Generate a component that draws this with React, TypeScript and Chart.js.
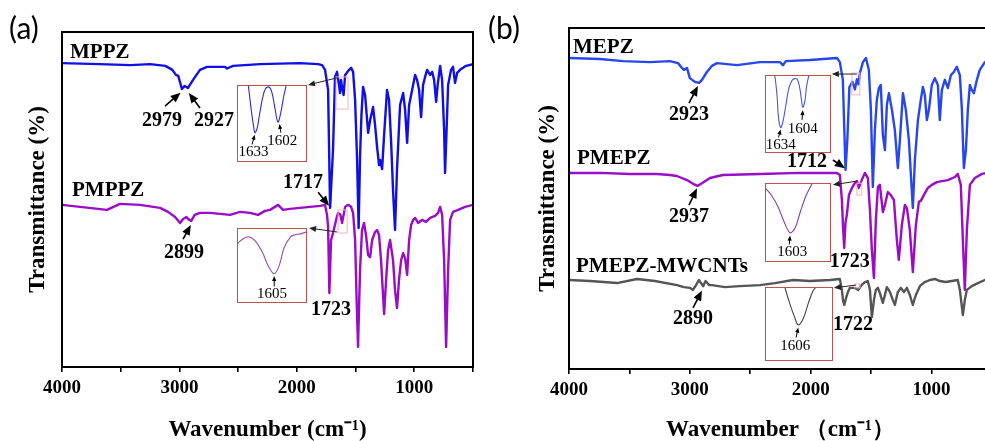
import React, { useEffect, useRef } from 'react';
import { Chart, registerables } from 'chart.js';

Chart.register(...registerables);

type Pt = [number, number];

// ---------- Panel (a): FTIR spectra, wavenumber (cm-1) vs. relative transmittance ----------
const MPPZ: Pt[] = [
  [4000, 90.7], [3680, 90.4], [3420, 90.1], [3250, 90.4], [3120, 89.9], [3060, 88.7], [3030, 87.2], [3010, 86.9],
  [2979, 83.0], [2955, 83.9], [2927, 83.3], [2884, 85.7], [2825, 88.7], [2765, 89.6], [2612, 89.6], [2595, 89.1],
  [2543, 89.9], [2313, 90.4], [1973, 90.7], [1819, 90.4], [1785, 90.1], [1760, 88.7], [1734, 82.7], [1717, 47.5],
  [1692, 64.8], [1675, 86.6], [1658, 88.1], [1641, 84.2], [1633, 81.8], [1624, 85.7], [1615, 83.3], [1602, 81.2],
  [1589, 87.2], [1555, 88.7], [1538, 89.3], [1521, 88.1], [1504, 79.7], [1487, 61.8], [1474, 41.5], [1462, 62.7],
  [1450, 75.2], [1436, 83.6], [1419, 81.2], [1393, 69.9], [1376, 73.7], [1351, 77.6], [1334, 72.2], [1317, 65.7],
  [1300, 60.3], [1291, 61.8], [1274, 59.1], [1257, 69.3], [1232, 82.7], [1215, 79.7], [1198, 67.8], [1181, 52.8],
  [1164, 40.9], [1147, 59.1], [1121, 78.2], [1095, 81.8], [1078, 76.7], [1061, 66.9], [1044, 78.2], [1027, 81.2],
  [1010, 84.2], [993, 87.2], [976, 85.7], [959, 82.7], [942, 74.6], [925, 84.2], [908, 86.6], [891, 88.7],
  [865, 87.2], [848, 88.1], [831, 85.7], [814, 79.1], [801, 84.2], [780, 89.9], [763, 85.7], [746, 70.7],
  [738, 57.9], [725, 70.7], [712, 84.2], [687, 88.7], [670, 89.6], [653, 84.8], [635, 87.8], [610, 88.7],
  [559, 89.9], [500, 90.4],
];

const PMPPZ: Pt[] = [
  [4000, 48.4], [3847, 47.8], [3617, 46.9], [3506, 48.7], [3336, 48.4], [3165, 47.5], [3097, 46.3], [3037, 44.8],
  [2995, 43.0], [2969, 44.2], [2940, 44.8], [2920, 44.0], [2899, 43.6], [2870, 45.4], [2825, 46.0], [2739, 46.0],
  [2654, 45.7], [2569, 45.4], [2484, 46.3], [2399, 46.0], [2330, 45.4], [2271, 46.6], [2228, 46.9], [2160, 48.4],
  [2118, 46.9], [2058, 47.2], [1973, 47.5], [1888, 47.8], [1802, 48.1], [1760, 48.4], [1743, 45.4], [1734, 41.8],
  [1723, 22.1], [1709, 37.9], [1692, 40.0], [1666, 43.9], [1649, 46.0], [1630, 45.5], [1615, 43.0], [1589, 47.8],
  [1564, 48.4], [1538, 47.8], [1521, 46.0], [1504, 37.9], [1491, 20.0], [1479, 6.0], [1462, 29.0], [1445, 40.9],
  [1428, 43.0], [1411, 39.4], [1393, 33.4], [1376, 32.8], [1359, 37.9], [1334, 40.3], [1317, 40.9], [1300, 39.4],
  [1283, 31.9], [1257, 15.8], [1240, 26.0], [1223, 34.9], [1206, 37.9], [1181, 31.9], [1164, 23.0], [1147, 17.6],
  [1130, 26.0], [1112, 31.9], [1095, 34.0], [1078, 32.5], [1061, 27.5], [1044, 37.9], [1027, 42.4], [1010, 43.9],
  [993, 44.5], [968, 43.0], [934, 43.9], [900, 43.3], [865, 44.5], [823, 45.1], [797, 46.0], [780, 47.8],
  [763, 45.4], [746, 31.9], [729, 6.0], [712, 29.0], [695, 43.9], [670, 46.3], [627, 46.9], [567, 47.8],
  [500, 48.4],
];

// ---------- Panel (b) ----------
const MEPZ: Pt[] = [
  [4000, 91.2], [3744, 90.9], [3553, 90.3], [3330, 90.0], [3165, 90.3], [3098, 89.7], [3065, 88.3], [3049, 87.7],
  [3024, 88.3], [3000, 85.3], [2958, 84.2], [2923, 83.9], [2900, 84.8], [2859, 87.1], [2817, 88.9], [2776, 89.7],
  [2610, 89.1], [2420, 90.0], [2255, 90.0], [2230, 89.1], [2205, 90.3], [2007, 90.6], [1783, 91.2], [1759, 90.0],
  [1734, 84.8], [1722, 70.1], [1712, 58.4], [1697, 67.2], [1680, 82.7], [1655, 84.2], [1634, 82.0], [1618, 85.0],
  [1604, 83.5], [1593, 86.8], [1568, 90.0], [1543, 91.2], [1519, 87.7], [1502, 76.0], [1486, 53.4], [1469, 70.1],
  [1453, 78.9], [1436, 82.4], [1420, 83.3], [1403, 68.6], [1386, 64.2], [1370, 77.4], [1353, 80.9], [1328, 76.0],
  [1304, 70.1], [1279, 58.9], [1262, 67.2], [1237, 80.9], [1213, 76.0], [1188, 67.2], [1171, 56.9], [1155, 47.2],
  [1138, 61.3], [1113, 73.0], [1089, 78.9], [1072, 82.7], [1056, 80.4], [1039, 73.0], [1022, 76.0], [998, 83.3],
  [973, 85.3], [948, 83.3], [932, 73.0], [915, 81.8], [890, 84.8], [865, 82.4], [840, 86.2], [816, 87.1],
  [791, 88.6], [766, 86.2], [749, 76.0], [733, 58.9], [716, 64.2], [700, 76.0], [683, 83.3], [667, 81.8],
  [650, 80.9], [625, 84.8], [601, 87.7], [559, 90.0], [500, 90.6],
];

const PMEPZ: Pt[] = [
  [4000, 57.5], [3744, 57.5], [3495, 57.2], [3272, 57.2], [3165, 56.9], [3107, 56.6], [3024, 55.4], [2974, 54.3],
  [2937, 53.7], [2900, 54.5], [2834, 56.0], [2726, 56.9], [2420, 57.2], [2089, 57.5], [1783, 57.5], [1759, 56.9],
  [1742, 49.6], [1733, 42.0], [1723, 35.5], [1712, 43.0], [1701, 45.2], [1684, 51.0], [1659, 53.1], [1635, 54.5],
  [1618, 55.1], [1603, 53.1], [1585, 54.8], [1552, 57.5], [1527, 56.0], [1510, 46.6], [1494, 34.9], [1477, 26.7],
  [1461, 43.7], [1444, 53.4], [1428, 54.0], [1403, 46.0], [1386, 48.1], [1362, 51.9], [1337, 51.0], [1312, 49.6],
  [1287, 37.8], [1271, 32.0], [1246, 42.2], [1221, 48.1], [1204, 47.2], [1180, 40.8], [1155, 28.4], [1130, 42.2],
  [1105, 49.0], [1089, 49.3], [1064, 51.0], [1031, 53.1], [998, 54.0], [956, 54.8], [915, 55.1], [865, 55.4],
  [807, 56.3], [783, 57.2], [758, 54.0], [741, 37.8], [725, 23.2], [708, 40.8], [683, 54.0], [642, 56.0],
  [584, 57.2], [500, 57.8],
];

const PMEPZ_MWCNTS: Pt[] = [
  [4000, 26.1], [3826, 25.8], [3603, 25.2], [3438, 26.4], [3289, 25.8], [3107, 24.6], [3049, 24.0], [3000, 23.8],
  [2974, 23.2], [2950, 24.5], [2925, 26.1], [2890, 24.3], [2870, 25.8], [2840, 24.6], [2817, 24.6], [2710, 24.0],
  [2586, 24.3], [2420, 24.6], [2296, 25.2], [2147, 26.1], [2007, 25.8], [1841, 26.1], [1759, 26.4], [1742, 23.2],
  [1732, 20.0], [1722, 18.8], [1706, 21.0], [1692, 22.6], [1676, 23.8], [1635, 23.8], [1606, 23.2], [1580, 24.6],
  [1552, 25.5], [1527, 25.8], [1510, 23.2], [1494, 15.2], [1477, 20.2], [1461, 23.2], [1444, 23.8], [1428, 22.3],
  [1403, 19.4], [1386, 21.7], [1370, 24.0], [1345, 22.6], [1320, 20.2], [1304, 18.8], [1279, 22.6], [1254, 23.8],
  [1229, 22.6], [1204, 23.8], [1180, 21.7], [1155, 18.8], [1130, 21.7], [1097, 24.3], [1056, 25.5], [1014, 26.1],
  [973, 26.4], [932, 25.8], [882, 25.5], [832, 25.8], [783, 26.1], [766, 23.2], [741, 15.8], [725, 20.2],
  [708, 23.2], [667, 24.3], [617, 25.2], [559, 26.1], [500, 26.4],
];

// ---------- Enlarged 1650–1560 cm-1 regions (relative scale 0–100 inside each box) ----------
const INSET_MPPZ: Pt[] = [
  [1646, 126], [1642, 100], [1638, 67.5], [1635, 46.8], [1633, 37.7], [1630, 44.2], [1627, 61.0], [1623, 83.1],
  [1619, 96.1], [1614, 98.7], [1610, 90.9], [1606, 70.1], [1602, 51.9], [1598, 64.9], [1594, 87.0], [1591, 100],
  [1588, 116.9],
];
const INSET_PMPPZ: Pt[] = [
  [1655, 80], [1647, 86.7], [1640, 89.3], [1631, 84], [1621, 68], [1613, 49.3], [1605, 38.7], [1598, 50.7],
  [1592, 73.3], [1583, 89.3], [1577, 92], [1570, 93.3], [1561, 96],
];
const INSET_MEPZ: Pt[] = [
  [1646, 119], [1642, 100], [1639, 74.4], [1637, 44.9], [1634, 32.1], [1631, 39.7], [1627, 61.5], [1623, 83.3],
  [1618, 94.9], [1612, 96.2], [1608, 83.3], [1604, 59.0], [1601, 67.9], [1599, 85.9], [1596, 100], [1593, 119],
];
const INSET_PMEPZ: Pt[] = [
  [1636, 93.7], [1628, 84.8], [1619, 69.6], [1611, 50.6], [1603, 36.7], [1596, 43.0], [1589, 63.3], [1581, 84.8],
  [1573, 100], [1569, 110],
];
const INSET_MWCNTS: Pt[] = [
  [1626, 109], [1624, 100], [1618, 79.7], [1611, 59.5], [1606, 48.6], [1599, 58.1], [1592, 79.7], [1586, 95.9],
  [1583, 100], [1580, 109],
];

// ---------- Labels, peak callouts and zoom markers (data coordinates) ----------
type Note = { text: string; x: number; y: number; from?: Pt; to?: Pt };
type Tag = { text: string; x: number; y: number };
type Box = { x1: number; x2: number; y1: number; y2: number };
type Link = { from: Pt; to: Pt };

const TAGS_A: Tag[] = [
  { text: 'MPPZ', x: 3932, y: 94.0 },
  { text: 'PMPPZ', x: 3915, y: 52.8 },
];
const NOTES_A: Note[] = [
  { text: '2979', x: 3148, y: 73.4, from: [3123, 77.9], to: [2990, 81.9] },
  { text: '2927', x: 2705, y: 73.4, from: [2825, 77.3], to: [2920, 81.8] },
  { text: '2899', x: 2961, y: 34.0, from: [2969, 38.2], to: [2903, 42.4] },
  { text: '1717', x: 1947, y: 54.9, from: [1819, 52.2], to: [1726, 48.1] },
  { text: '1723', x: 1709, y: 17.0 },
];
const BOXES_A: Box[] = [
  { x1: 1666, x2: 1564, y1: 86.6, y2: 77.0 },
  { x1: 1649, x2: 1572, y1: 46.9, y2: 40.0 },
];
const LINKS_A: Link[] = [
  { from: [1658, 86.3], to: [1905, 84.2] },
  { from: [1658, 40.3], to: [1896, 41.5] },
];

const TAGS_B: Tag[] = [
  { text: 'MEPZ', x: 3967, y: 94.4 },
  { text: 'PMEPZ', x: 3934, y: 61.6 },
  { text: 'PMEPZ-MWCNTs', x: 3942, y: 29.9 },
];
const NOTES_B: Note[] = [
  { text: '2923', x: 3007, y: 74.5, from: [3007, 78.0], to: [2933, 83.0] },
  { text: '2937', x: 3007, y: 44.6, from: [3007, 48.1], to: [2941, 53.0] },
  { text: '2890', x: 2974, y: 14.7, from: [2974, 17.9], to: [2900, 23.0] },
  { text: '1712', x: 2031, y: 60.7, from: [1816, 61.3], to: [1717, 58.9] },
  { text: '1723', x: 1676, y: 31.4 },
  { text: '1722', x: 1651, y: 12.9 },
];
const BOXES_B: Box[] = [
  { x1: 1659, x2: 1593, y1: 86.8, y2: 80.4 },
  { x1: 1618, x2: 1577, y1: 54.5, y2: 51.0 },
  { x1: 1635, x2: 1593, y1: 24.9, y2: 23.8 },
];
const LINKS_B: Link[] = [
  { from: [1618, 86.5], to: [1825, 86.5] },
  { from: [1618, 55.1], to: [1816, 54.0] },
  { from: [1626, 24.6], to: [1808, 23.8] },
];

const NOTES_INSET_MPPZ: Note[] = [
  { text: '1633', x: 1635, y: 11.7, from: [1637, 22.1], to: [1633.4, 35.1] },
  { text: '1602', x: 1596, y: 26, from: [1598, 37.7], to: [1600, 49.4] },
];
const NOTES_INSET_PMPPZ: Note[] = [{ text: '1605', x: 1608, y: 10.7, from: [1605, 21.3], to: [1605, 35.5] }];
const NOTES_INSET_MEPZ: Note[] = [
  { text: '1604', x: 1604, y: 30.8, from: [1605, 42.3], to: [1604, 55] },
  { text: '1634', x: 1634, y: 9.0, from: [1637, 19.2], to: [1634, 29.5] },
];
const NOTES_INSET_PMEPZ: Note[] = [{ text: '1603', x: 1600, y: 11.4, from: [1604, 21.5], to: [1603, 33] }];
const NOTES_INSET_MWCNTS: Note[] = [{ text: '1606', x: 1610, y: 18.9, from: [1609, 31.1], to: [1606, 45] }];

const SERIF = "'Liberation Serif', 'Times New Roman', serif";

function drawArrow(
  ctx: CanvasRenderingContext2D,
  x1: number, y1: number, x2: number, y2: number,
  head: number, width: number, color: string,
) {
  const a = Math.atan2(y2 - y1, x2 - x1);
  const c = Math.cos(a);
  const s = Math.sin(a);
  ctx.strokeStyle = color;
  ctx.fillStyle = color;
  ctx.lineWidth = width;
  ctx.beginPath();
  ctx.moveTo(x1, y1);
  ctx.lineTo(x2 - c * head * 0.7, y2 - s * head * 0.7);
  ctx.stroke();
  const w = head * 0.42;
  ctx.beginPath();
  ctx.moveTo(x2, y2);
  ctx.lineTo(x2 - head * c + w * s, y2 - head * s - w * c);
  ctx.lineTo(x2 - head * c - w * s, y2 - head * s + w * c);
  ctx.closePath();
  ctx.fill();
}

type Decor = {
  tags?: Tag[];
  notes?: Note[];
  boxes?: Box[];
  links?: Link[];
  noteFont: string;
  tagFont?: string;
  head: number;
  arrowWidth: number;
};

function decorPlugin(id: string, d: Decor) {
  return {
    id,
    afterDatasetsDraw(chart: any) {
      const { ctx } = chart;
      const sx = chart.scales.x;
      const sy = chart.scales.y;
      const px = (v: number) => sx.getPixelForValue(v);
      const py = (v: number) => sy.getPixelForValue(v);
      ctx.save();
      (d.boxes || []).forEach((b) => {
        ctx.strokeStyle = '#f4b4b4';
        ctx.lineWidth = 1;
        const l = px(b.x1);
        const t = py(b.y1);
        ctx.strokeRect(l, t, px(b.x2) - l, py(b.y2) - t);
      });
      (d.links || []).forEach((k) => {
        drawArrow(ctx, px(k.from[0]), py(k.from[1]), px(k.to[0]), py(k.to[1]), 7, 1, '#222');
      });
      ctx.fillStyle = '#000';
      ctx.textBaseline = 'middle';
      if (d.tagFont) {
        ctx.font = d.tagFont;
        ctx.textAlign = 'left';
        (d.tags || []).forEach((t) => {
          ctx.fillStyle = '#000';
          ctx.fillText(t.text, px(t.x), py(t.y));
        });
      }
      ctx.font = d.noteFont;
      ctx.textAlign = 'center';
      (d.notes || []).forEach((n) => {
        ctx.fillStyle = '#000';
        ctx.fillText(n.text, px(n.x), py(n.y));
        if (n.from && n.to) {
          drawArrow(ctx, px(n.from[0]), py(n.from[1]), px(n.to[0]), py(n.to[1]), d.head, d.arrowWidth, '#000');
        }
      });
      ctx.restore();
    },
  };
}

const framePlugin = {
  id: 'frame',
  afterDraw(chart: any) {
    const { ctx, chartArea: a } = chart;
    ctx.save();
    ctx.strokeStyle = '#000';
    ctx.lineWidth = 2;
    ctx.strokeRect(a.left, a.top, a.right - a.left, a.bottom - a.top);
    ctx.restore();
  },
};

type Series = { data: Pt[]; color: string };

type PanelProps = {
  left: number;
  width: number;
  axisWidth: number;
  padRight: number;
  padTop: number;
  axisHeight: number;
  yTitlePad: number;
  xTitle: string;
  series: Series[];
  tags: Tag[];
  notes: Note[];
  boxes: Box[];
  links: Link[];
};

const CANVAS_H = 460;

function SpectrumPanel(p: PanelProps) {
  const ref = useRef<HTMLCanvasElement>(null);
  useEffect(() => {
    const chart = new Chart(ref.current as HTMLCanvasElement, {
      type: 'line',
      data: {
        datasets: p.series.map((s) => ({
          data: s.data.map(([x, y]) => ({ x, y })),
          borderColor: s.color,
          borderWidth: 2.4,
          borderJoinStyle: 'round' as const,
          pointRadius: 0,
          tension: 0,
          fill: false,
        })),
      },
      options: {
        responsive: false,
        animation: false,
        events: [],
        layout: { padding: { left: 0, right: p.padRight, top: p.padTop, bottom: 0 } },
        plugins: { legend: { display: false }, tooltip: { enabled: false } },
        scales: {
          x: {
            type: 'linear',
            reverse: true,
            min: 500,
            max: 4000,
            afterFit: (s: any) => { s.height = p.axisHeight; },
            ticks: {
              stepSize: 500,
              autoSkip: false,
              maxRotation: 0,
              padding: 5,
              color: '#000',
              font: { family: SERIF, size: 19, weight: 'bold' },
              callback: (v: any) => (Number(v) % 1000 === 0 ? String(v) : ''),
            },
            grid: { display: true, drawOnChartArea: false, drawTicks: true, tickLength: 5, color: '#000', lineWidth: 1.6 },
            border: { display: false },
            title: {
              display: true,
              text: p.xTitle,
              color: '#000',
              font: { family: SERIF, size: 23, weight: 'bold' },
              padding: { top: 0, bottom: 16 },
            },
          },
          y: {
            min: 0,
            max: 100,
            afterFit: (s: any) => { s.width = p.axisWidth; },
            ticks: { display: false },
            grid: { display: false },
            border: { display: false },
            title: {
              display: true,
              text: 'Transmittance (%)',
              color: '#000',
              font: { family: SERIF, size: 23, weight: 'bold' },
              padding: { top: p.yTitlePad, bottom: 0 },
            },
          },
        },
      } as any,
      plugins: [
        framePlugin,
        decorPlugin('decor', {
          tags: p.tags,
          notes: p.notes,
          boxes: p.boxes,
          links: p.links,
          noteFont: `bold 20px ${SERIF}`,
          tagFont: `bold 21px ${SERIF}`,
          head: 10,
          arrowWidth: 1.6,
        }),
      ],
    });
    return () => chart.destroy();
  }, []);
  return (
    <canvas
      ref={ref}
      width={p.width}
      height={CANVAS_H}
      style={{ position: 'absolute', left: p.left, top: 0, width: p.width, height: CANVAS_H }}
    />
  );
}

type InsetProps = {
  left: number;
  top: number;
  width: number;
  height: number;
  data: Pt[];
  color: string;
  xmin: number;
  xmax: number;
  notes: Note[];
};

function Inset(p: InsetProps) {
  const ref = useRef<HTMLCanvasElement>(null);
  const cw = p.width - 2;
  const ch = p.height - 2;
  useEffect(() => {
    const chart = new Chart(ref.current as HTMLCanvasElement, {
      type: 'line',
      data: {
        datasets: [
          {
            data: p.data.map(([x, y]) => ({ x, y })),
            borderColor: p.color,
            borderWidth: 1.1,
            pointRadius: 0,
            tension: 0.35,
            fill: false,
          },
        ],
      },
      options: {
        responsive: false,
        animation: false,
        events: [],
        layout: { padding: 0 },
        plugins: { legend: { display: false }, tooltip: { enabled: false } },
        scales: {
          x: { type: 'linear', reverse: true, min: p.xmin, max: p.xmax, display: false },
          y: { min: 0, max: 100, display: false },
        },
      } as any,
      plugins: [
        decorPlugin('insetDecor', {
          notes: p.notes,
          noteFont: `15px ${SERIF}`,
          head: 5,
          arrowWidth: 1,
        }),
      ],
    });
    return () => chart.destroy();
  }, []);
  return (
    <div
      style={{
        position: 'absolute',
        left: p.left,
        top: p.top,
        width: p.width,
        height: p.height,
        boxSizing: 'border-box',
        border: '1px solid #c0504d',
        background: '#fff',
      }}
    >
      <canvas ref={ref} width={cw} height={ch} style={{ display: 'block', width: cw, height: ch }} />
    </div>
  );
}

const panelTag: React.CSSProperties = {
  position: 'absolute',
  top: 10,
  fontFamily: "Lato, 'Noto Sans', sans-serif",
  fontSize: 30,
  lineHeight: '34px',
  color: '#000',
};

export default function App() {
  return (
    <div
      style={{
        position: 'absolute',
        left: 0,
        top: 0,
        width: 985,
        height: 441,
        overflow: 'hidden',
        background: '#fff',
      }}
    >
      <SpectrumPanel
        left={0}
        width={490}
        axisWidth={62}
        padRight={17}
        padTop={32}
        axisHeight={CANVAS_H - 367}
        yTitlePad={24}
        xTitle="Wavenumber (cm⁻¹)"
        series={[
          { data: MPPZ, color: '#0f0fe6' },
          { data: PMPPZ, color: '#9a0cc8' },
        ]}
        tags={TAGS_A}
        notes={NOTES_A}
        boxes={BOXES_A}
        links={LINKS_A}
      />
      <SpectrumPanel
        left={490}
        width={519}
        axisWidth={79}
        padRight={17}
        padTop={28}
        axisHeight={CANVAS_H - 369}
        yTitlePad={44}
        xTitle="Wavenumber （cm⁻¹）"
        series={[
          { data: MEPZ, color: '#2846ee' },
          { data: PMEPZ, color: '#9a0cc8' },
          { data: PMEPZ_MWCNTS, color: '#555555' },
        ]}
        tags={TAGS_B}
        notes={NOTES_B}
        boxes={BOXES_B}
        links={LINKS_B}
      />
      <Inset left={237} top={85} width={70} height={77} data={INSET_MPPZ} color="#2b2bd6" xmin={1564} xmax={1656} notes={NOTES_INSET_MPPZ} />
      <Inset left={237} top={228} width={70} height={75} data={INSET_PMPPZ} color="#9a4cbc" xmin={1562} xmax={1654} notes={NOTES_INSET_PMPPZ} />
      <Inset left={765} top={75} width={66} height={78} data={INSET_MEPZ} color="#4858d8" xmin={1567} xmax={1654} notes={NOTES_INSET_MEPZ} />
      <Inset left={765} top={183} width={66} height={79} data={INSET_PMEPZ} color="#8a3aa8" xmin={1548} xmax={1636} notes={NOTES_INSET_PMEPZ} />
      <Inset left={765} top={287} width={68} height={74} data={INSET_MWCNTS} color="#444444" xmin={1560} xmax={1650} notes={NOTES_INSET_MWCNTS} />
      <div style={{ ...panelTag, left: 9 }}>(a)</div>
      <div style={{ ...panelTag, left: 488 }}>(b)</div>
    </div>
  );
}
